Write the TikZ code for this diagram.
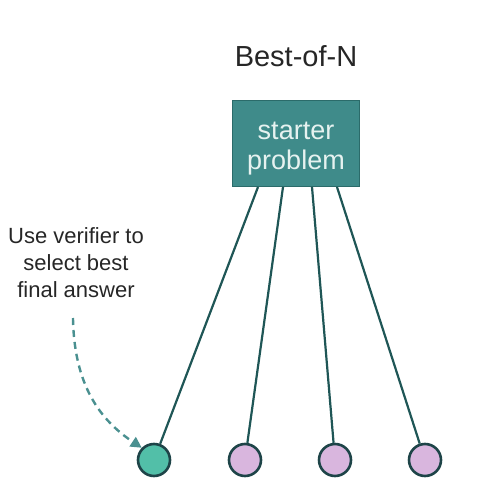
\documentclass[tikz,border=0pt]{standalone}
\usepackage{fontspec}
\setmainfont{Liberation Sans}
\usetikzlibrary{arrows.meta}
\definecolor{boxfill}{HTML}{3F8B8A}
\definecolor{boxline}{HTML}{2B6B6A}
\definecolor{edge}{HTML}{1F5656}
\definecolor{circline}{HTML}{1E4448}
\definecolor{green}{HTML}{52BFA8}
\definecolor{purple}{HTML}{D9B6DE}
\definecolor{dashc}{HTML}{4A9090}
\definecolor{boxtext}{HTML}{E6F2F0}
\definecolor{txt}{HTML}{262626}
\begin{document}
\begin{tikzpicture}[x=1pt,y=-1pt,
  leaf/.style={circle,draw=circline,line width=2.6pt,minimum size=32pt,inner sep=0pt},
  conn/.style={draw=edge,line width=2.2pt},
]
\useasboundingbox (0,0) rectangle (498,502);
\node[text=txt,font=\fontsize{29}{33}\selectfont] (title) at (296,56) {Best-of-N};
\node[draw=boxline,line width=1.5pt,fill=boxfill,minimum width=127pt,minimum height=86pt,text=boxtext,inner sep=0pt,font=\fontsize{27}{30}\selectfont] (root) at (296,143.5) {\raisebox{-11pt}[0pt][0pt]{\begin{tabular}{@{}c@{}}starter\\[0pt]problem\end{tabular}}};
\node[leaf,fill=green] (a) at (154,460) {};
\node[leaf,fill=purple] (b) at (245,460) {};
\node[leaf,fill=purple] (c) at (335,460) {};
\node[leaf,fill=purple] (d) at (425,460) {};
\coordinate (r1) at (258,187);
\coordinate (r2) at (283,187);
\coordinate (r3) at (312,187);
\coordinate (r4) at (337,187);
\draw[conn] (r1) -- (a);
\draw[conn] (r2) -- (b);
\draw[conn] (r3) -- (c);
\draw[conn] (r4) -- (d);
\node[align=center,text=txt,font=\fontsize{22}{27}\selectfont] (label) at (76,263) {Use verifier to\\select best\\final answer};
\coordinate (s) at (73,318);
\draw[dashc,line width=2.4pt,dash pattern=on 7pt off 5pt,-{Triangle[length=11pt,width=11pt]}] (s) .. controls (74,385) and (100,420) .. (a.135);
\end{tikzpicture}
\end{document}
